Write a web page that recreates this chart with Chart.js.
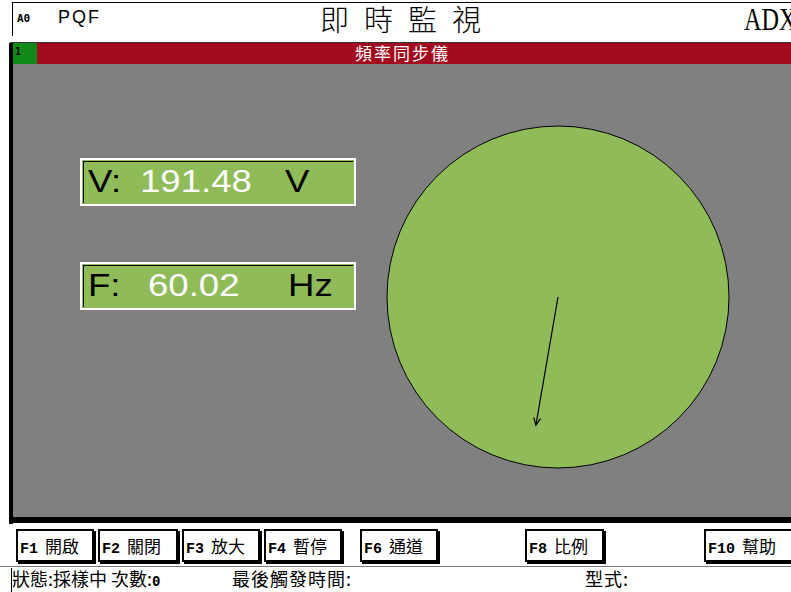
<!DOCTYPE html>
<html>
<head>
<meta charset="utf-8">
<script src="https://cdn.jsdelivr.net/npm/chart.js@4"></script>
<style>
  body { margin: 0; width: 791px; height: 592px; background: #fff; position: relative; overflow: hidden;
         font-family: "Noto Sans CJK TC", "Noto Sans", sans-serif; }
  .abs { position: absolute; white-space: nowrap; }
  .mono { font-family: "DejaVu Sans Mono", monospace; font-weight: bold; }
  .fk { font-family: "Liberation Mono", "DejaVu Sans Mono", monospace; font-weight: bold; }
  .btn { position: absolute; top: 529px; height: 29px; background: #fff; border: 2px solid #000;
         box-shadow: 2px 2px 0 #000; font-size: 17px; line-height: 29px;
         white-space: nowrap; padding-left: 2px; }
  .btn .fk { font-size: 15px; margin-right: 7px; }
  .box { position: absolute; left: 80px; width: 272px; height: 44px; background: #8fbb59;
         border: 2px solid #fff; font-family: Arial, "Liberation Sans", sans-serif; font-size: 31px; }
  .box .in { position: absolute; left: 1px; top: 1px; right: 1px; bottom: 1px;
             border-top: 1px solid #000; border-left: 1px solid #000; }
  .box span { position: absolute; top: 3px; line-height: 38px; transform: scaleX(1.18); transform-origin: left center; }
  .box span.w { color: #fff; }
</style>
</head>
<body>
<!-- header -->
<div class="abs" style="left:12px;top:2px;width:779px;height:1px;background:#000"></div>
<div class="abs" style="left:12px;top:2px;width:1px;height:34px;background:#000"></div>
<div class="abs mono" style="left:17px;top:12px;font-size:11px">A0</div>
<div class="abs" style="left:58px;top:7px;font-size:18px;letter-spacing:2px;font-family:'Liberation Sans',Arial,sans-serif">PQF</div>
<div class="abs" style="left:320px;top:-3px;font-size:29px;letter-spacing:15px;font-weight:300">即時監視</div>
<div class="abs" style="left:744px;top:2px;font-size:31px;font-family:'Liberation Serif',serif;transform:scaleX(0.78);transform-origin:left top">ADX</div>

<!-- title bar -->
<div class="abs" style="left:10px;top:42px;width:781px;height:21px;background:#a30a1e;border-top:1px solid #333"></div>
<div class="abs" style="left:13px;top:43px;width:24px;height:21px;background:#11891a"></div>
<div class="abs mono" style="left:15px;top:46px;font-size:10px">1</div>
<div class="abs" style="left:355px;top:40px;font-size:17px;letter-spacing:2px;color:#fff">頻率同步儀</div>

<!-- panel -->
<div class="abs" style="left:10px;top:64px;width:781px;height:453px;background:#808080"></div>
<div class="abs" style="left:9px;top:43px;width:4px;height:481px;background:#000"></div>
<div class="abs" style="left:9px;top:517px;width:782px;height:6px;background:#000"></div>

<div class="box" style="top:158px"><div class="in"></div>
  <span style="left:6px">V:</span><span class="w" style="left:58px">191.48</span><span style="left:203px">V</span></div>
<div class="box" style="top:262px"><div class="in"></div>
  <span style="left:6px">F:</span><span class="w" style="left:66px">60.02</span><span style="left:206px">Hz</span></div>

<div class="abs" style="left:385px;top:124px;width:346px;height:346px">
  <canvas id="scope" width="346" height="346"></canvas>
</div>

<!-- function keys -->
<div class="btn" style="left:16px;width:72px"><span class="fk">F1</span>開啟</div>
<div class="btn" style="left:98px;width:74px"><span class="fk">F2</span>關閉</div>
<div class="btn" style="left:182px;width:72px"><span class="fk">F3</span>放大</div>
<div class="btn" style="left:264px;width:72px"><span class="fk">F4</span>暫停</div>
<div class="btn" style="left:360px;width:72px"><span class="fk">F6</span>通道</div>
<div class="btn" style="left:525px;width:73px"><span class="fk">F8</span>比例</div>
<div class="btn" style="left:704px;width:83px"><span class="fk">F10</span>幫助</div>

<!-- status -->
<div class="abs" style="left:0px;top:566px;width:791px;height:1px;background:#777"></div>
<div class="abs" style="left:11px;top:568px;width:1px;height:24px;background:#000"></div>
<div class="abs" style="left:12px;top:565px;font-size:18px;white-space:pre">狀態:採樣中 次數:<span class="mono" style="font-size:14px">0</span></div>
<div class="abs" style="left:232px;top:565px;font-size:18px;letter-spacing:1px">最後觸發時間:</div>
<div class="abs" style="left:585px;top:565px;font-size:18px;letter-spacing:1px">型式:</div>

<script>
// synchroscope reading: phase angle (deg, clockwise from 12 o'clock) and needle length (fraction of dial)
var phaseDeg = [189.8];
var needleLen = [0.76];
var dialColor = '#8fbb59';

// needle endpoints from the polar reading
var needlePts = [{ x: 0, y: 0 }];
for (var i = 0; i < phaseDeg.length; i++) {
  var a = phaseDeg[i] * Math.PI / 180;
  needlePts.push({ x: needleLen[i] * Math.sin(a), y: needleLen[i] * Math.cos(a) });
}

var dialPlugin = {
  id: 'dial',
  beforeDatasetsDraw: function (chart) {
    var ctx = chart.ctx, sx = chart.scales.x, sy = chart.scales.y;
    var cx = sx.getPixelForValue(0), cy = sy.getPixelForValue(0);
    var r = sx.getPixelForValue(1) - cx;
    ctx.save();
    ctx.beginPath();
    ctx.arc(cx, cy, r, 0, Math.PI * 2);
    ctx.fillStyle = dialColor;
    ctx.fill();
    ctx.lineWidth = 1;
    ctx.strokeStyle = '#000';
    ctx.stroke();
    ctx.restore();
  },
  afterDatasetsDraw: function (chart) {
    // open arrow head on the needle tip
    var pts = chart.getDatasetMeta(0).data;
    var p0 = pts[pts.length - 2], p1 = pts[pts.length - 1];
    var ang = Math.atan2(p1.y - p0.y, p1.x - p0.x);
    var ctx = chart.ctx, h = 8;
    ctx.save();
    ctx.strokeStyle = '#000';
    ctx.lineWidth = 1.2;
    ctx.beginPath();
    ctx.moveTo(p1.x - h * Math.cos(ang - 0.45), p1.y - h * Math.sin(ang - 0.45));
    ctx.lineTo(p1.x, p1.y);
    ctx.lineTo(p1.x - h * Math.cos(ang + 0.45), p1.y - h * Math.sin(ang + 0.45));
    ctx.stroke();
    ctx.restore();
  }
};

new Chart(document.getElementById('scope').getContext('2d'), {
  type: 'scatter',
  data: {
    datasets: [{
      data: needlePts,
      showLine: true,
      borderColor: '#000',
      borderWidth: 1.2,
      pointRadius: 0
    }]
  },
  options: {
    responsive: false,
    animation: false,
    layout: { padding: 2 },
    plugins: { legend: { display: false }, tooltip: { enabled: false } },
    scales: {
      x: { min: -1, max: 1, display: false },
      y: { min: -1, max: 1, display: false }
    }
  },
  plugins: [dialPlugin]
});
</script>
</body>
</html>
